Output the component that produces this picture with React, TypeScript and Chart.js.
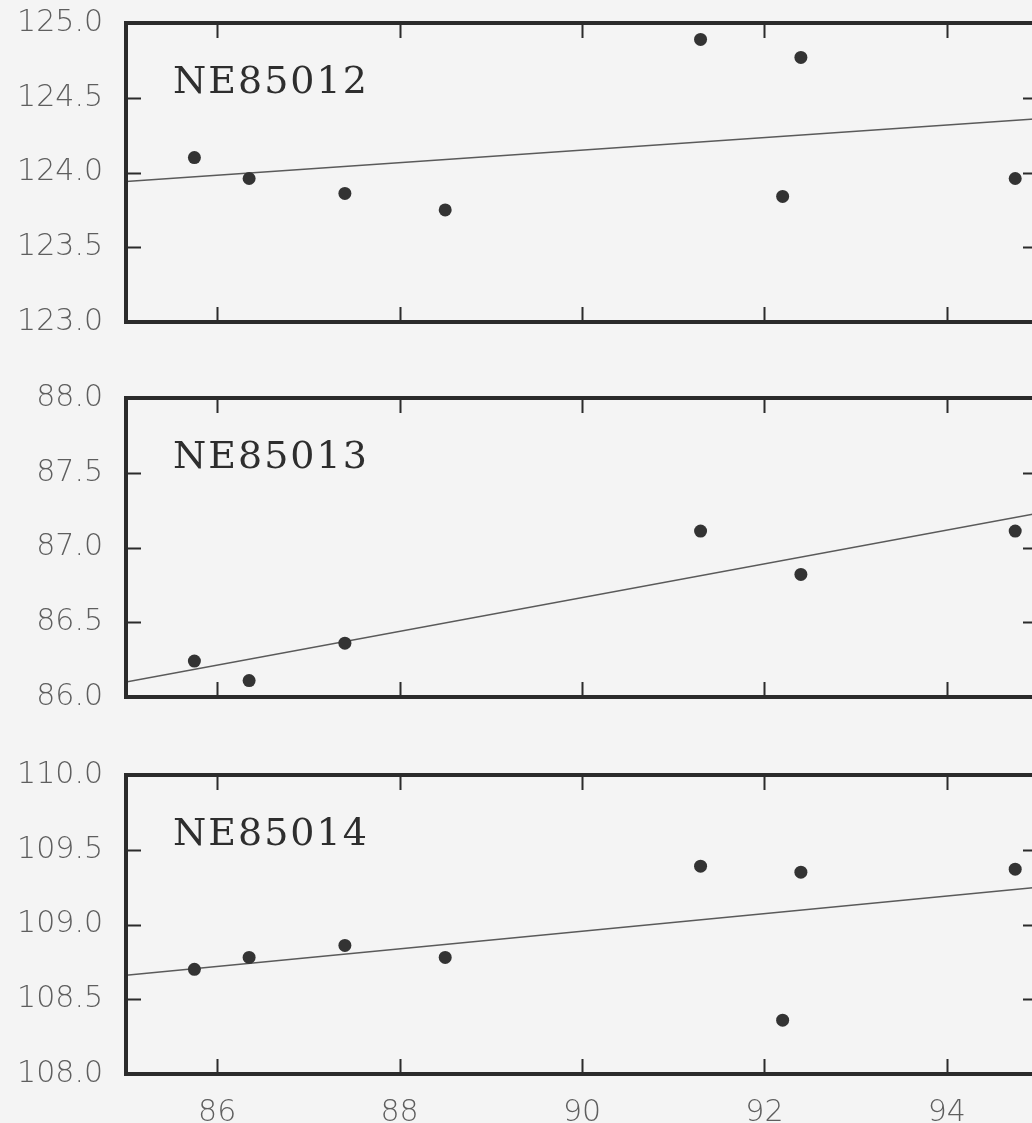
import React, { useEffect, useRef } from "react";
import { Chart, registerables } from "chart.js";

Chart.register(...registerables);

// ---- data ----
const X_MIN = 85;
const X_MAX = 95;
const X_TICKS = [86, 88, 90, 92, 94];

const NAMES = ["NE85012", "NE85013", "NE85014"];

const YEARS_12 = [85.75, 86.35, 87.4, 88.5, 91.3, 92.2, 92.4, 94.75];
const VALUES_12 = [124.1, 123.96, 123.86, 123.75, 124.89, 123.84, 124.77, 123.96];
const FIT_12 = [123.94, 124.36];
const Y_TICKS_12 = [123.0, 123.5, 124.0, 124.5, 125.0];

const YEARS_13 = [85.75, 86.35, 87.4, 91.3, 92.4, 94.75];
const VALUES_13 = [86.24, 86.11, 86.36, 87.11, 86.82, 87.11];
const FIT_13 = [86.1, 87.23];
const Y_TICKS_13 = [86.0, 86.5, 87.0, 87.5, 88.0];

const YEARS_14 = [85.75, 86.35, 87.4, 88.5, 91.3, 92.2, 92.4, 94.75];
const VALUES_14 = [108.7, 108.78, 108.86, 108.78, 109.39, 108.36, 109.35, 109.37];
const FIT_14 = [108.66, 109.25];
const Y_TICKS_14 = [108.0, 108.5, 109.0, 109.5, 110.0];

const PANELS = [
  { name: NAMES[0], years: YEARS_12, values: VALUES_12, fit: FIT_12, yTicks: Y_TICKS_12, showX: false, top: 0 },
  { name: NAMES[1], years: YEARS_13, values: VALUES_13, fit: FIT_13, yTicks: Y_TICKS_13, showX: false, top: 375 },
  { name: NAMES[2], years: YEARS_14, values: VALUES_14, fit: FIT_14, yTicks: Y_TICKS_14, showX: true, top: 752 },
];

const CANVAS_W = 1050;
const CANVAS_H = 376;
const INK = "#2b2b2b";
const LABEL = "#5e5e5e";

function Panel({ p }: { p: (typeof PANELS)[number] }) {
  const ref = useRef<HTMLCanvasElement | null>(null);
  useEffect(() => {
    if (!ref.current) return;
    const framePlugin = {
      id: "frame",
      afterDatasetsDraw(chart: any) {
        const ctx = chart.ctx;
        const a = chart.chartArea;
        const xs = chart.scales.x;
        const ys = chart.scales.y;
        ctx.save();
        ctx.strokeStyle = INK;
        ctx.lineWidth = 2;
        const tl = 15;
        X_TICKS.forEach((v) => {
          const px = Math.round(xs.getPixelForValue(v)) + 0.5;
          ctx.beginPath();
          ctx.moveTo(px, a.top);
          ctx.lineTo(px, a.top + tl);
          ctx.moveTo(px, a.bottom);
          ctx.lineTo(px, a.bottom - tl);
          ctx.stroke();
        });
        p.yTicks.slice(1, -1).forEach((v) => {
          const py = Math.round(ys.getPixelForValue(v)) + 0.5;
          ctx.beginPath();
          ctx.moveTo(a.left, py);
          ctx.lineTo(a.left + tl, py);
          ctx.moveTo(a.right, py);
          ctx.lineTo(a.right - tl, py);
          ctx.stroke();
        });
        ctx.lineWidth = 4;
        ctx.strokeRect(a.left, a.top, a.right - a.left, a.bottom - a.top);
        // panel label
        ctx.fillStyle = "#2e2e2e";
        ctx.font = '38px "DejaVu Serif"';
        try {
          (ctx as any).letterSpacing = "2px";
        } catch (e) {}
        ctx.textBaseline = "alphabetic";
        ctx.textAlign = "left";
        ctx.fillText(p.name, a.left + 47, a.top + 70);
        ctx.restore();
      },
    };

    const chart = new Chart(ref.current, {
      type: "scatter",
      data: {
        datasets: [
          {
            data: p.years.map((x, i) => ({ x, y: p.values[i] })),
            pointRadius: 6.5,
            pointBackgroundColor: "#333333",
            pointBorderWidth: 0,
            showLine: false,
          },
          {
            data: [
              { x: X_MIN, y: p.fit[0] },
              { x: X_MAX, y: p.fit[1] },
            ],
            showLine: true,
            pointRadius: 0,
            borderColor: "#5a5a5a",
            borderWidth: 1.5,
          },
        ],
      },
      options: {
        responsive: false,
        animation: false,
        layout: { padding: { top: 23, right: 12, left: 0, bottom: 0 } },
        plugins: { legend: { display: false }, tooltip: { enabled: false }, title: { display: false } },
        scales: {
          x: {
            type: "linear",
            min: X_MIN,
            max: X_MAX,
            grid: { display: false, drawTicks: false },
            border: { display: false },
            afterBuildTicks: (s: any) => {
              s.ticks = X_TICKS.map((v) => ({ value: v }));
            },
            afterFit: (s: any) => {
              s.height = CANVAS_H - 23 - 299;
              s.paddingLeft = 0;
              s.paddingRight = 0;
            },
            ticks: {
              display: p.showX,
              padding: 21,
              color: LABEL,
              font: { family: "DejaVu Sans", size: 30, weight: "200" as any },
              callback: (v: any) => String(v),
              maxRotation: 0,
            },
          },
          y: {
            type: "linear",
            min: p.yTicks[0],
            max: p.yTicks[p.yTicks.length - 1],
            grid: { display: false, drawTicks: false },
            border: { display: false },
            afterBuildTicks: (s: any) => {
              s.ticks = p.yTicks.map((v) => ({ value: v }));
            },
            afterFit: (s: any) => {
              s.width = 126;
              s.paddingTop = 0;
              s.paddingBottom = 0;
            },
            ticks: {
              padding: 23,
              color: LABEL,
              font: { family: "DejaVu Sans", size: 30, weight: "200" as any },
              callback: (v: any) => Number(v).toFixed(1),
            },
          },
        },
      },
      plugins: [framePlugin],
    });
    return () => chart.destroy();
  }, [p]);
  return (
    <canvas
      ref={ref}
      width={CANVAS_W}
      height={CANVAS_H}
      style={{ position: "absolute", left: 0, top: p.top, width: CANVAS_W, height: CANVAS_H }}
    />
  );
}

export default function App() {
  useEffect(() => {
    document.body.style.margin = "0";
    document.body.style.background = "#f4f4f4";
  }, []);
  return (
    <div
      style={{
        position: "relative",
        width: 1032,
        height: 1123,
        overflow: "hidden",
        background: "#f4f4f4",
      }}
    >
      {PANELS.map((p) => (
        <Panel key={p.name} p={p} />
      ))}
    </div>
  );
}
